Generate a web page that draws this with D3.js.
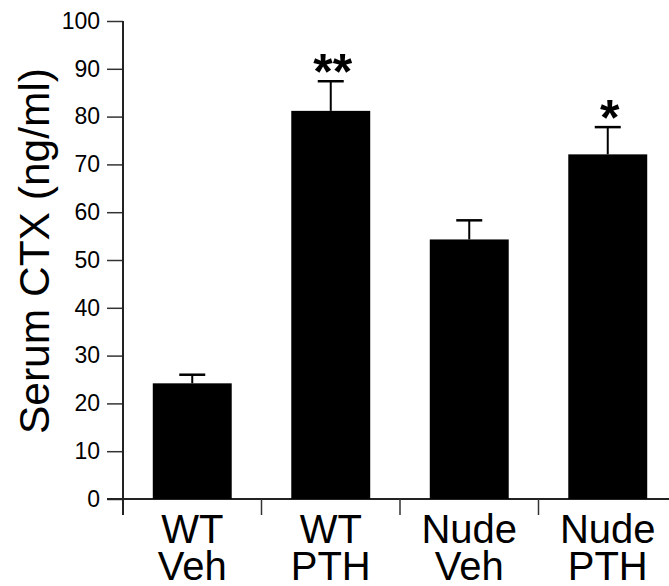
<!DOCTYPE html>
<html>
<head>
<meta charset="utf-8">
<script src="https://cdn.jsdelivr.net/npm/d3@7"></script>
<style>
  body { margin: 0; background: #fff; }
  text { font-family: "Liberation Sans", Arial, sans-serif; fill: #000; }
</style>
</head>
<body>
<svg width="669" height="586"></svg>
<script>
// groups along the x axis, two lines each
var groups = ["WT Veh", "WT PTH", "Nude Veh", "Nude PTH"],
    labelTop = ["WT", "WT", "Nude", "Nude"],
    labelBottom = ["Veh", "PTH", "Veh", "PTH"],
    means = [24.2, 81.2, 54.3, 72.1],
    sems = [1.8, 6.2, 4.0, 5.7],
    stars = ["", "**", "", "*"],
    yTicks = [0, 10, 20, 30, 40, 50, 60, 70, 80, 90, 100];

var svg = d3.select("svg"),
    x0 = 123, y0 = 499, yTop = 21;

var x = d3.scaleBand().domain(groups).range([x0, x0 + 4 * 138.5]).paddingInner(0.43).paddingOuter(0.215);
var y = d3.scaleLinear().domain([0, 100]).range([y0, yTop]);

// y axis
var yAxis = svg.append("g").attr("transform", "translate(" + x0 + ",0)")
  .call(d3.axisLeft(y).tickValues(yTicks).tickSize(16).tickPadding(7));
yAxis.select(".domain").remove();
yAxis.selectAll(".tick line").attr("stroke", "#333").attr("stroke-width", 1.5);
yAxis.selectAll(".tick text").style("font-size", "23px").attr("fill", "#000");
svg.append("line").attr("x1", x0).attr("x2", x0).attr("y1", yTop).attr("y2", y0 + 16)
  .attr("stroke", "#222").attr("stroke-width", 2);

// x axis line + category separators
svg.append("line").attr("x1", x0 - 16).attr("x2", 669).attr("y1", y0).attr("y2", y0)
  .attr("stroke", "#222").attr("stroke-width", 2);
groups.forEach(function(g, i) {
  if (i === 0) return;
  var sx = x0 + i * x.step();
  svg.append("line").attr("x1", sx).attr("x2", sx).attr("y1", y0).attr("y2", y0 + 16)
    .attr("stroke", "#333").attr("stroke-width", 1.5);
});

// bars
svg.selectAll("rect.bar").data(groups).enter().append("rect")
  .attr("x", function(d) { return x(d); })
  .attr("y", function(d, i) { return y(means[i]); })
  .attr("width", x.bandwidth())
  .attr("height", function(d, i) { return y0 - y(means[i]); })
  .attr("fill", "#000");

// error bars (upper only), stars, group labels
groups.forEach(function(g, i) {
  var cx = x(g) + x.bandwidth() / 2;
  svg.append("line").attr("x1", cx).attr("x2", cx)
    .attr("y1", y(means[i])).attr("y2", y(means[i] + sems[i]))
    .attr("stroke", "#000").attr("stroke-width", 2);
  svg.append("line").attr("x1", cx - 13).attr("x2", cx + 13)
    .attr("y1", y(means[i] + sems[i])).attr("y2", y(means[i] + sems[i]))
    .attr("stroke", "#000").attr("stroke-width", 2.5);
  if (stars[i]) {
    svg.append("text").attr("x", cx + 2).attr("y", y(means[i] + sems[i]) + 8)
      .attr("text-anchor", "middle").style("font-size", "50px").style("font-weight", "bold")
      .text(stars[i]);
  }
  var t = svg.append("text").attr("text-anchor", "middle").style("font-size", "40px");
  t.append("tspan").attr("x", cx).attr("y", 543).text(labelTop[i]);
  t.append("tspan").attr("x", cx).attr("y", 580).text(labelBottom[i]);
});

// y label
svg.append("text").attr("transform", "translate(49,251) rotate(-90)")
  .attr("text-anchor", "middle").style("font-size", "42.5px")
  .text("Serum CTX (ng/ml)");
</script>
</body>
</html>
